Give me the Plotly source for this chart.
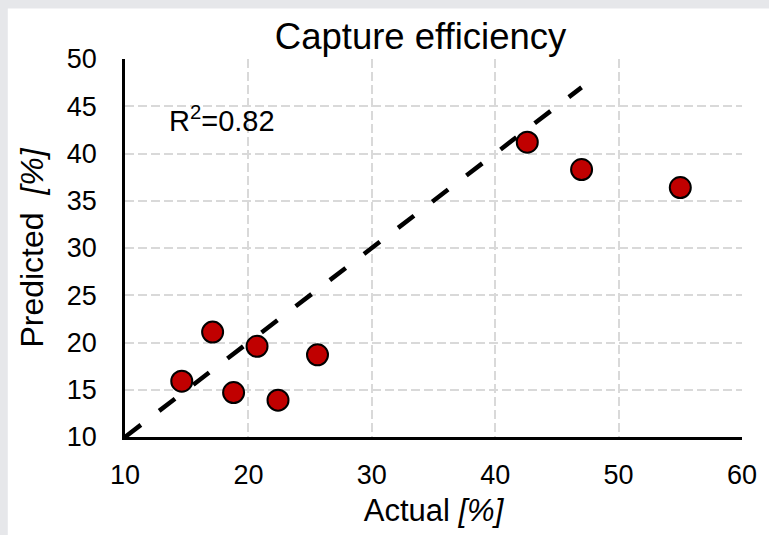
import plotly.graph_objects as go

# Measured vs. model-predicted capture efficiency (%)
actual = [14.6, 17.1, 18.8, 20.7, 22.4, 25.6, 42.6, 47.0, 55.0]
predicted = [15.9, 21.1, 14.7, 19.6, 13.9, 18.7, 41.2, 38.3, 36.4]

# 1:1 reference line
parity_x = [10, 47]
parity_y = [10, 47]

x_ticks = [10, 20, 30, 40, 50, 60]
y_ticks = [10, 15, 20, 25, 30, 35, 40, 45, 50]

FONT = "Liberation Sans, Arial, sans-serif"
GRID = "#d9d9d9"

fig = go.Figure()

fig.add_trace(go.Scatter(
    x=parity_x, y=parity_y, mode="lines",
    line=dict(color="black", width=4.5, dash="20px,23px"),
    hoverinfo="skip", showlegend=False,
))

fig.add_trace(go.Scatter(
    x=actual, y=predicted, mode="markers",
    marker=dict(size=21, color="#c00000", line=dict(color="black", width=2)),
    showlegend=False,
))

fig.add_annotation(
    x=13.4, y=43.6, xref="x", yref="y", xanchor="left", yanchor="middle",
    text="R<sup>2</sup>=0.82", showarrow=False,
    font=dict(family=FONT, size=29, color="black"),
)

# white card on a light grey frame
fig.add_shape(
    type="rect", xref="paper", yref="paper",
    x0=-0.19, x1=1.1, y0=-0.3, y1=1.1335,
    fillcolor="white", line=dict(width=0), layer="below",
)

axis_common = dict(
    showgrid=True, gridcolor=GRID, gridwidth=2, griddash="9px,4px",
    showline=True, linecolor="black", linewidth=2.5,
    zeroline=False, ticks="", mirror=False,
    tickfont=dict(family=FONT, size=27, color="black"),
)

fig.update_layout(
    width=769, height=535,
    margin=dict(l=125, r=22, t=59, b=94),
    paper_bgcolor="#e6e7ea", plot_bgcolor="white",
    title=dict(
        text="Capture efficiency", x=0.479, xref="paper", xanchor="center",
        y=1 - 36 / 535, yref="container", yanchor="middle",
        font=dict(family=FONT, size=36.5, color="black"),
    ),
    xaxis=dict(
        range=[10, 60], tickvals=x_ticks, ticklabelstandoff=12,
        title=dict(text="Actual <i>[%]</i>", standoff=11,
                   font=dict(family=FONT, size=31, color="black")),
        **axis_common,
    ),
    yaxis=dict(
        range=[10, 50], tickvals=y_ticks, ticklabelstandoff=20,
        title=dict(text="Predicted&nbsp; <i>[%]</i>", standoff=14,
                   font=dict(family=FONT, size=32, color="black")),
        **axis_common,
    ),
)

fig.write_html("out.html")
